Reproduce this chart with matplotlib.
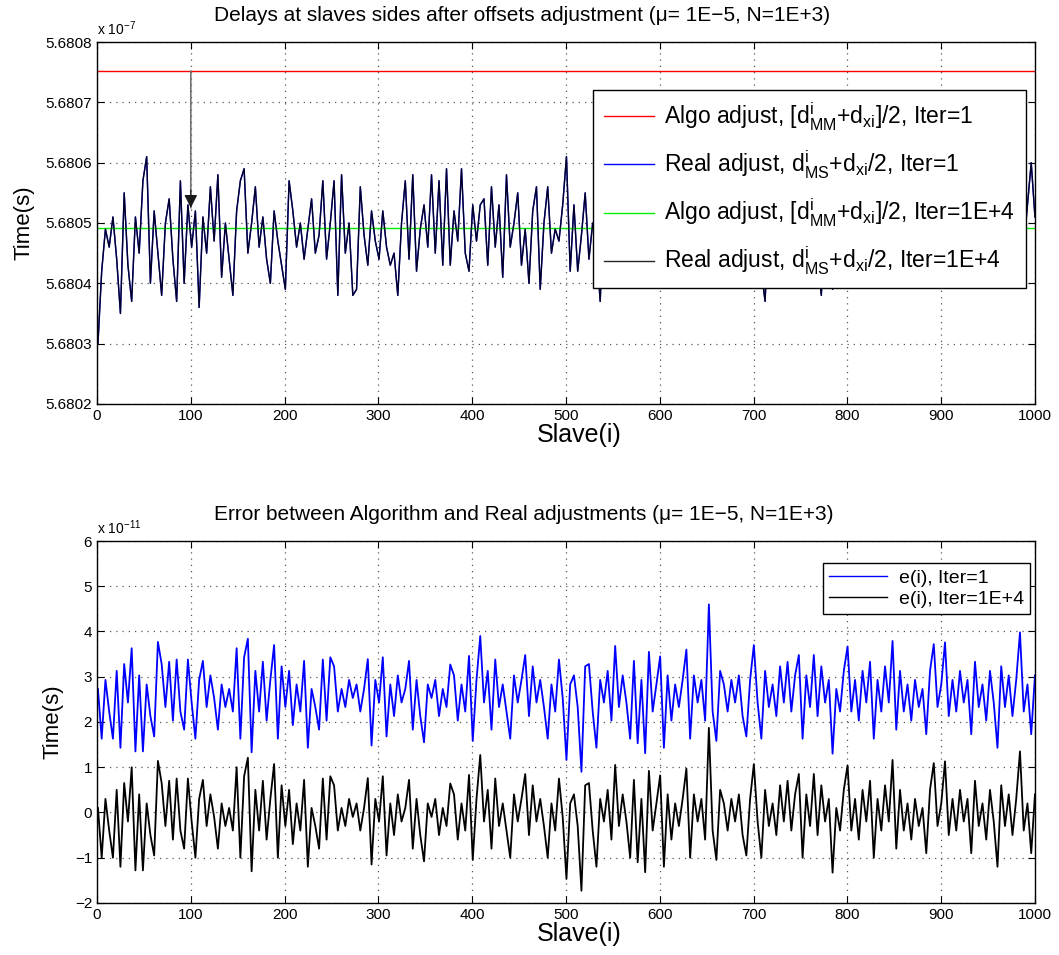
import numpy as np
import matplotlib
matplotlib.use('Agg')
import matplotlib.pyplot as plt

plt.rcParams['font.family'] = ['Liberation Sans', 'DejaVu Sans']
plt.rcParams['mathtext.default'] = 'regular'

# top plot: delays (units of 1e-7 s)
algo_iter1 = 5.680752
algo_iter1e4 = 5.680491
real_delay = [
    5.68030, 5.68042, 5.68049, 5.68046, 5.68051, 5.68044, 5.68035, 5.68055, 5.68043, 5.68037,
    5.68051, 5.68045, 5.68057, 5.68061, 5.68040, 5.68052, 5.68045, 5.68038, 5.68050, 5.68054,
    5.68044, 5.68037, 5.68057, 5.68040, 5.68053, 5.68046, 5.68052, 5.68036, 5.68051, 5.68045,
    5.68056, 5.68047, 5.68058, 5.68041, 5.68050, 5.68044, 5.68038, 5.68052, 5.68057, 5.68059,
    5.68045, 5.68050, 5.68056, 5.68046, 5.68051, 5.68044, 5.68040, 5.68052, 5.68047, 5.68043,
    5.68039, 5.68057, 5.68052, 5.68046, 5.68050, 5.68044, 5.68049, 5.68054, 5.68045, 5.68048,
    5.68057, 5.68044, 5.68050, 5.68057, 5.68038, 5.68058, 5.68045, 5.68050, 5.68038, 5.68039,
    5.68056, 5.68048, 5.68043, 5.68052, 5.68047, 5.68044, 5.68052, 5.68046, 5.68043, 5.68045,
    5.68038, 5.68050, 5.68057, 5.68044, 5.68058, 5.68042, 5.68049, 5.68053, 5.68046, 5.68058,
    5.68045, 5.68057, 5.68043, 5.68059, 5.68043, 5.68052, 5.68047, 5.68059, 5.68045, 5.68042,
    5.68053, 5.68047, 5.68053, 5.68054, 5.68043, 5.68056, 5.68046, 5.68053, 5.68041, 5.68058,
    5.68046, 5.68050, 5.68055, 5.68043, 5.68049, 5.68040, 5.68052, 5.68056, 5.68039, 5.68050,
    5.68056, 5.68045, 5.68049, 5.68047, 5.68053, 5.68061, 5.68042, 5.68053, 5.68042, 5.68048,
    5.68055, 5.68044, 5.68050, 5.68046, 5.68037, 5.68052, 5.68047, 5.68055, 5.68043, 5.68049,
    5.68054, 5.68041, 5.68050, 5.68046, 5.68057, 5.68044, 5.68049, 5.68053, 5.68042, 5.68051,
    5.68047, 5.68040, 5.68055, 5.68045, 5.68050, 5.68043, 5.68052, 5.68057, 5.68044, 5.68049,
    5.68046, 5.68053, 5.68041, 5.68060, 5.68047, 5.68040, 5.68052, 5.68048, 5.68044, 5.68051,
    5.68046, 5.68053, 5.68043, 5.68041, 5.68050, 5.68056, 5.68046, 5.68042, 5.68037, 5.68052,
    5.68048, 5.68044, 5.68054, 5.68047, 5.68055, 5.68043, 5.68050, 5.68055, 5.68041, 5.68051,
    5.68045, 5.68055, 5.68044, 5.68038, 5.68052, 5.68047, 5.68039, 5.68049, 5.68045, 5.68052,
    5.68056, 5.68045, 5.68050, 5.68043, 5.68052, 5.68047, 5.68054, 5.68041, 5.68050, 5.68045,
    5.68053, 5.68047, 5.68057, 5.68042, 5.68052, 5.68046, 5.68050, 5.68043, 5.68051, 5.68046,
    5.68049, 5.68041, 5.68052, 5.68057, 5.68046, 5.68050, 5.68057, 5.68044, 5.68051, 5.68045,
    5.68052, 5.68047, 5.68050, 5.68041, 5.68055, 5.68046, 5.68050, 5.68043, 5.68052, 5.68047,
    5.68040, 5.68053, 5.68046, 5.68051, 5.68044, 5.68050, 5.68058, 5.68046, 5.68053, 5.68060,
    5.68051]
real_iter1 = real_delay
real_iter1e4 = real_delay
arrow_slave = 100
arrow_tip = 5.680525

# bottom plot: errors (units of 1e-11 s)
err_iter1 = [
    2.73, 1.63, 2.93, 2.23, 1.63, 3.13, 1.43, 3.28, 2.43, 3.63,
    1.35, 3.03, 1.35, 2.83, 2.13, 1.68, 3.77, 3.28, 2.33, 3.33,
    2.03, 3.38, 2.23, 1.83, 3.38, 2.43, 1.63, 2.93, 3.35, 2.33,
    3.03, 2.53, 1.83, 2.83, 2.33, 2.73, 2.23, 3.63, 1.63, 3.43,
    3.84, 1.33, 3.13, 2.23, 3.33, 2.03, 2.93, 3.70, 1.63, 3.23,
    2.33, 3.13, 1.93, 2.83, 2.23, 3.35, 1.43, 2.73, 2.33, 1.83,
    3.38, 2.03, 3.43, 3.23, 2.23, 2.73, 2.33, 2.93, 2.53, 2.83,
    2.23, 2.73, 3.39, 1.48, 2.93, 2.43, 3.43, 1.68, 2.83, 2.13,
    3.03, 2.43, 2.73, 3.35, 1.83, 2.93, 2.13, 1.55, 2.83, 2.53,
    2.93, 2.13, 2.73, 2.33, 3.27, 3.03, 2.03, 2.83, 2.23, 3.46,
    1.58, 2.93, 3.90, 2.43, 3.13, 1.83, 3.38, 2.33, 2.83, 2.23,
    1.63, 3.03, 2.43, 2.93, 3.48, 2.13, 3.23, 2.43, 2.93, 2.33,
    1.63, 2.83, 2.23, 3.38, 2.53, 1.16, 2.83, 3.03, 2.33, 0.90,
    3.23, 3.28, 2.23, 1.43, 2.93, 2.43, 3.13, 2.03, 3.68, 2.33,
    3.03, 2.43, 1.63, 3.35, 1.53, 2.93, 1.31, 3.55, 2.23, 2.83,
    3.45, 1.43, 3.03, 2.03, 2.83, 2.33, 2.93, 3.60, 1.63, 3.03,
    2.43, 2.93, 2.03, 4.60, 2.23, 1.58, 3.13, 2.83, 2.23, 2.93,
    2.43, 3.03, 2.13, 1.68, 2.93, 3.70, 2.43, 1.63, 3.13, 2.33,
    2.83, 2.13, 3.23, 2.43, 3.33, 2.23, 3.03, 3.48, 1.63, 3.03,
    2.33, 3.48, 2.13, 3.23, 2.43, 2.93, 1.30, 2.73, 2.23, 3.13,
    3.67, 2.23, 2.93, 2.03, 3.13, 2.43, 3.33, 1.63, 2.93, 2.23,
    3.23, 2.43, 3.79, 1.83, 3.13, 2.23, 2.83, 2.03, 2.93, 2.33,
    2.73, 1.73, 3.13, 3.72, 2.33, 2.83, 3.76, 2.13, 2.93, 2.23,
    3.13, 2.43, 2.93, 1.73, 3.33, 2.33, 2.83, 2.03, 3.13, 2.43,
    1.43, 3.23, 2.33, 3.03, 2.13, 2.93, 3.98, 2.23, 2.83, 1.73,
    3.03]
err_iter1e4 = [
    0.1, -1.0, 0.3, -0.4, -1.0, 0.5, -1.2, 0.65, -0.2, 1.0,
    -1.28, 0.4, -1.28, 0.2, -0.5, -0.95, 1.14, 0.65, -0.3, 0.7,
    -0.6, 0.75, -0.4, -0.8, 0.75, -0.2, -1.0, 0.3, 0.72, -0.3,
    0.4, -0.1, -0.8, 0.2, -0.3, 0.1, -0.4, 1.0, -1.0, 0.8,
    1.21, -1.3, 0.5, -0.4, 0.7, -0.6, 0.3, 1.07, -1.0, 0.6,
    -0.3, 0.5, -0.7, 0.2, -0.4, 0.72, -1.2, 0.1, -0.3, -0.8,
    0.75, -0.6, 0.8, 0.6, -0.4, 0.1, -0.3, 0.3, -0.1, 0.2,
    -0.4, 0.1, 0.76, -1.15, 0.3, -0.2, 0.8, -0.95, 0.2, -0.5,
    0.4, -0.2, 0.1, 0.72, -0.8, 0.3, -0.5, -1.08, 0.2, -0.1,
    0.3, -0.5, 0.1, -0.3, 0.64, 0.4, -0.6, 0.2, -0.4, 0.83,
    -1.05, 0.3, 1.27, -0.2, 0.5, -0.8, 0.75, -0.3, 0.2, -0.4,
    -1.0, 0.4, -0.2, 0.3, 0.85, -0.5, 0.6, -0.2, 0.3, -0.3,
    -1.0, 0.2, -0.4, 0.75, -0.1, -1.47, 0.2, 0.4, -0.3, -1.73,
    0.6, 0.65, -0.4, -1.2, 0.3, -0.2, 0.5, -0.6, 1.05, -0.3,
    0.4, -0.2, -1.0, 0.72, -1.1, 0.3, -1.32, 0.92, -0.4, 0.2,
    0.82, -1.2, 0.4, -0.6, 0.2, -0.3, 0.3, 0.97, -1.0, 0.4,
    -0.2, 0.3, -0.6, 1.87, -0.4, -1.05, 0.5, 0.2, -0.4, 0.3,
    -0.2, 0.4, -0.5, -0.95, 0.3, 1.07, -0.2, -1.0, 0.5, -0.3,
    0.2, -0.5, 0.6, -0.2, 0.7, -0.4, 0.4, 0.85, -1.0, 0.4,
    -0.3, 0.85, -0.5, 0.6, -0.2, 0.3, -1.33, 0.1, -0.4, 0.5,
    1.04, -0.4, 0.3, -0.6, 0.5, -0.2, 0.7, -1.0, 0.3, -0.4,
    0.6, -0.2, 1.16, -0.8, 0.5, -0.4, 0.2, -0.6, 0.3, -0.3,
    0.1, -0.9, 0.5, 1.09, -0.3, 0.2, 1.13, -0.5, 0.3, -0.4,
    0.5, -0.2, 0.3, -0.9, 0.7, -0.3, 0.2, -0.6, 0.5, -0.2,
    -1.2, 0.6, -0.3, 0.4, -0.5, 0.3, 1.35, -0.4, 0.2, -0.9,
    0.4]

slaves_top = np.linspace(1, 1000, len(real_delay))
slaves_bot = np.linspace(1, 1000, len(err_iter1))

fig = plt.figure(figsize=(10.59, 9.55), dpi=100)
ax1 = fig.add_axes([0.0916, 0.577, 0.8857, 0.379])
ax2 = fig.add_axes([0.0916, 0.0545, 0.8857, 0.379])


def matlab_style(ax):
    ax.grid(True, linestyle=(0, (1, 4)), color='0.35', linewidth=0.9)
    ax.tick_params(direction='in', top=True, right=True, labelsize=11, length=5)
    for s in ax.spines.values():
        s.set_linewidth(1.0)
    ax.set_xlim(0, 1000)
    ax.set_xticks(np.arange(0, 1001, 100))
    ax.set_xlabel('Slave(i)', fontsize=18, labelpad=0, x=0.514)
    ax.set_ylabel('Time(s)', fontsize=16, labelpad=8)


ax1.plot(slaves_top, [algo_iter1] * len(slaves_top), color='red', lw=1.0,
         label=r'Algo adjust, [$d^{i}_{MM}$+$d_{xi}$]/2, Iter=1')
ax1.plot(slaves_top, real_iter1, color='blue', lw=1.0,
         label=r'Real adjust, $d^{i}_{MS}$+$d_{xi}$/2, Iter=1')
ax1.plot(slaves_top, [algo_iter1e4] * len(slaves_top), color='#00ee00', lw=1.0,
         label=r'Algo adjust, [$d^{i}_{MM}$+$d_{xi}$]/2, Iter=1E+4')
ax1.plot(slaves_top, real_iter1e4, color='black', lw=1.0, alpha=0.85,
         label=r'Real adjust, $d^{i}_{MS}$+$d_{xi}$/2, Iter=1E+4')
# annotation arrow: gray shaft, dark head
ax1.annotate('', xy=(arrow_slave, arrow_tip), xytext=(arrow_slave, algo_iter1),
             arrowprops=dict(arrowstyle='-', color='0.45', lw=1.2,
                             shrinkA=0, shrinkB=0))
ax1.annotate('', xy=(arrow_slave, arrow_tip), xytext=(arrow_slave, arrow_tip + 0.00003),
             arrowprops=dict(arrowstyle='-|>', color='0.1', lw=0.8,
                             mutation_scale=20, shrinkA=0, shrinkB=0))
ax1.set_ylim(5.6802, 5.6808)
ax1.set_yticks(np.arange(5.6802, 5.68081, 0.0001))
ax1.set_yticklabels(['%.4f' % v for v in np.arange(5.6802, 5.68081, 0.0001)])
matlab_style(ax1)
ax1.set_title('Delays at slaves sides after offsets adjustment (\u03bc= 1E\u22125, N=1E+3)',
              fontsize=15, pad=15, x=0.453)
ax1.text(0.0, 1.012, r'x 10$^{-7}$', transform=ax1.transAxes, fontsize=10,
         ha='left', va='bottom')
leg1 = ax1.legend(loc='upper right', bbox_to_anchor=(0.990, 0.867), fontsize=16.5,
                  fancybox=False, edgecolor='black', framealpha=1,
                  borderaxespad=0, handlelength=2.2, labelspacing=0.7,
                  borderpad=0.45, handletextpad=0.45)
leg1.get_frame().set_linewidth(1.0)

ax2.plot(slaves_bot, err_iter1, color='blue', lw=1.3, label='e(i), Iter=1')
ax2.plot(slaves_bot, err_iter1e4, color='black', lw=1.3, label='e(i), Iter=1E+4')
ax2.set_ylim(-2, 6)
ax2.set_yticks(np.arange(-2, 7, 1))
ax2.set_yticklabels(['\u22122', '\u22121', '0', '1', '2', '3', '4', '5', '6'])
matlab_style(ax2)
ax2.set_title('Error between Algorithm and Real adjustments (\u03bc= 1E\u22125, N=1E+3)',
              fontsize=15, pad=15, x=0.455)
ax2.text(0.0, 1.012, r'x 10$^{-11}$', transform=ax2.transAxes, fontsize=10,
         ha='left', va='bottom')
leg2 = ax2.legend(loc='upper right', bbox_to_anchor=(0.9947, 0.939), fontsize=14,
                  fancybox=False, edgecolor='black', framealpha=1,
                  borderaxespad=0, handlelength=3.0, labelspacing=0.2,
                  borderpad=0.3, handletextpad=0.6)
for h in leg2.get_lines():
    h.set_linewidth(1.0)
leg2.get_frame().set_linewidth(1.0)

fig.savefig('out.png', dpi=100)
